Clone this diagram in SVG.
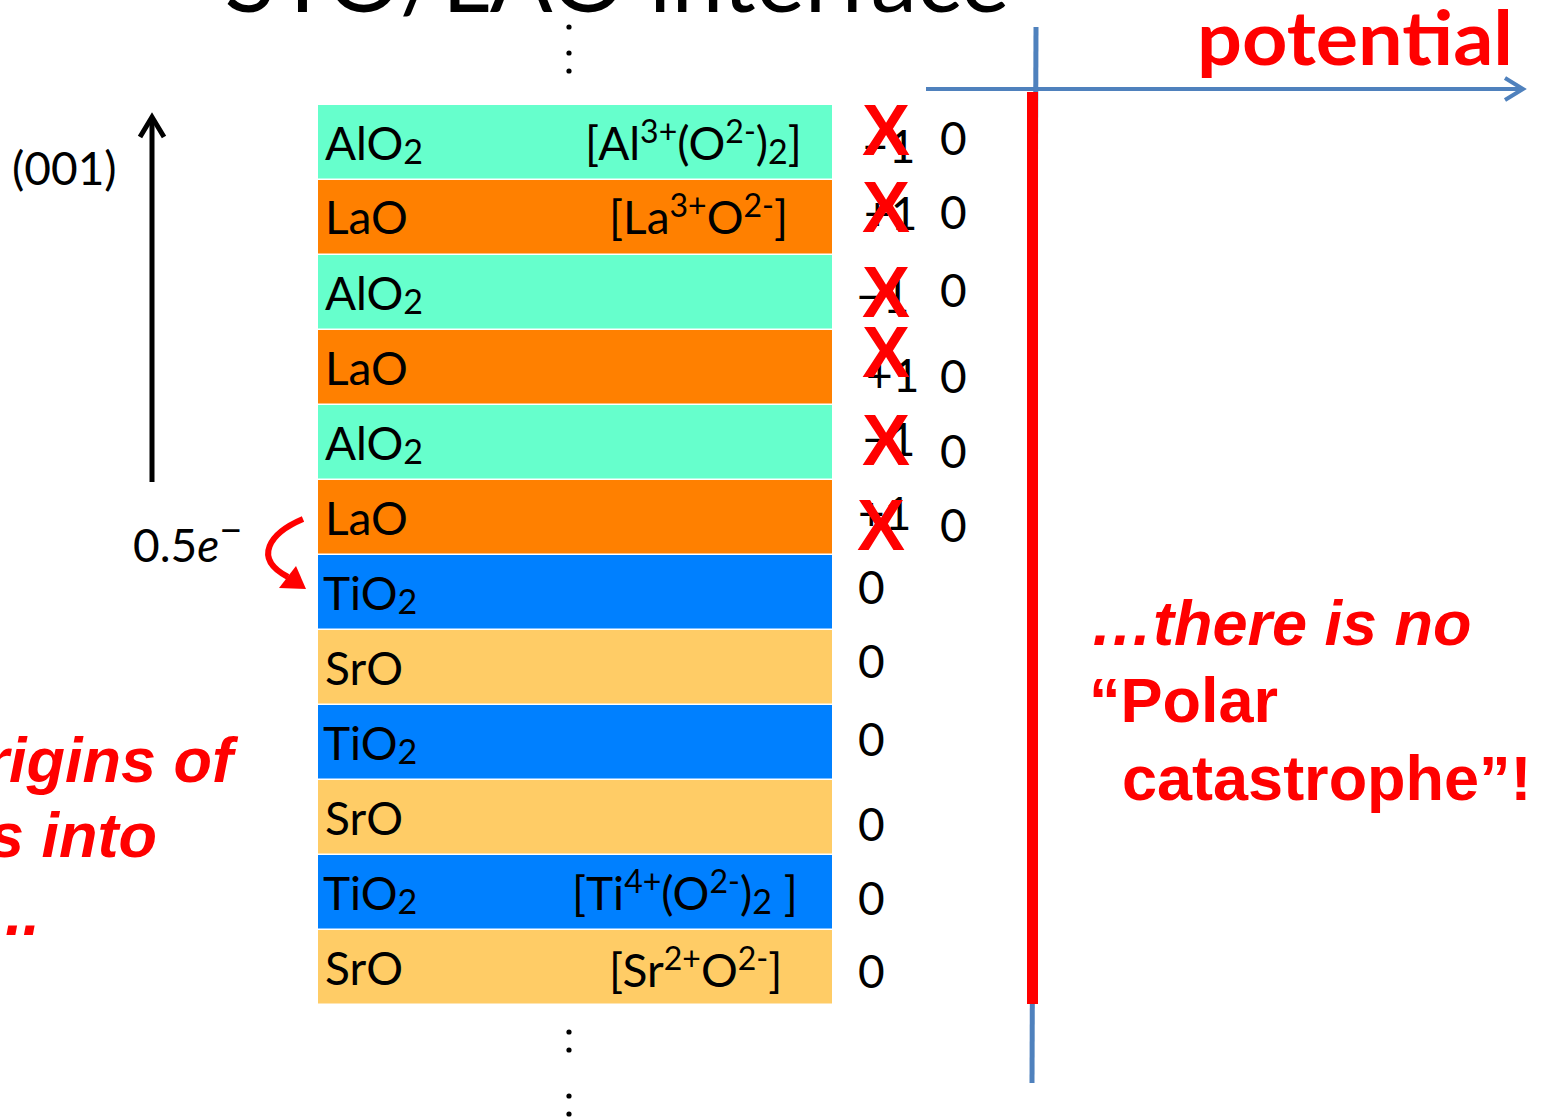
<svg xmlns="http://www.w3.org/2000/svg" width="1549" height="1120" viewBox="0 0 1549 1120">
<style>
.lab{font-family:Lato,"Open Sans","Liberation Sans",sans-serif;font-size:46px;fill:#000}
.sub{font-size:34px}
.sup{font-size:32px}
.num{font-family:Lato,"Open Sans","Liberation Sans",sans-serif;font-size:46px;fill:#000}
.x{font-family:"Liberation Sans",Arial,sans-serif;font-weight:bold;font-size:72px;fill:#ff0000;text-anchor:middle}
.red{font-family:"Liberation Sans",Arial,sans-serif;font-weight:bold;font-size:63px;fill:#ff0000}
.aq{fill:#66FFCC}.or{fill:#FF8000}.bl{fill:#0080FF}.tn{fill:#FFCC66}
</style>
<rect width="1549" height="1120" fill="#fff"/>
<text x="617" y="12" text-anchor="middle" font-family="Lato,'Open Sans',sans-serif" font-size="92" textLength="785" lengthAdjust="spacingAndGlyphs">STO/LAO interface</text>
<g id="dots" fill="#000">
<circle cx="569" cy="27" r="2.6"/><circle cx="569" cy="53" r="2.6"/><circle cx="569" cy="71" r="2.6"/>
<circle cx="569" cy="1032" r="2.6"/><circle cx="569" cy="1050" r="2.6"/><circle cx="569" cy="1096" r="2.6"/><circle cx="569" cy="1114" r="2.6"/>
</g>
<g id="layer1"><rect class="aq" x="318" y="105" width="514" height="73.5"/><text class="lab" x="325" y="160">AlO<tspan class="sub" dy="4">2</tspan></text>
<text class="lab" x="585" y="160">[Al<tspan class="sup" dy="-17">3+</tspan><tspan dy="17">(O</tspan><tspan class="sup" dy="-17">2-</tspan><tspan dy="17">)</tspan><tspan class="sub" dy="4">2</tspan><tspan dy="-4">]</tspan></text></g>
<g id="layer2"><rect class="or" x="318" y="180" width="514" height="73.5"/><text class="lab" x="325" y="234">LaO</text>
<text class="lab" x="609" y="234">[La<tspan class="sup" dy="-17">3+</tspan><tspan dy="17">O</tspan><tspan class="sup" dy="-17">2-</tspan><tspan dy="17">]</tspan></text></g>
<g id="layer3"><rect class="aq" x="318" y="255" width="514" height="73.5"/><text class="lab" x="325" y="310">AlO<tspan class="sub" dy="4">2</tspan></text></g>
<g id="layer4"><rect class="or" x="318" y="330" width="514" height="73.5"/><text class="lab" x="325" y="385">LaO</text></g>
<g id="layer5"><rect class="aq" x="318" y="405" width="514" height="73.5"/><text class="lab" x="325" y="460">AlO<tspan class="sub" dy="4">2</tspan></text></g>
<g id="layer6"><rect class="or" x="318" y="480" width="514" height="73.5"/><text class="lab" x="325" y="535">LaO</text></g>
<g id="layer7"><rect class="bl" x="318" y="555" width="514" height="73.5"/><text class="lab" x="323" y="610">TiO<tspan class="sub" dy="4">2</tspan></text></g>
<g id="layer8"><rect class="tn" x="318" y="630" width="514" height="73.5"/><text class="lab" x="325" y="685">SrO</text></g>
<g id="layer9"><rect class="bl" x="318" y="705" width="514" height="73.5"/><text class="lab" x="323" y="760">TiO<tspan class="sub" dy="4">2</tspan></text></g>
<g id="layer10"><rect class="tn" x="318" y="780" width="514" height="73.5"/><text class="lab" x="325" y="835">SrO</text></g>
<g id="layer11"><rect class="bl" x="318" y="855" width="514" height="73.5"/><text class="lab" x="323" y="910">TiO<tspan class="sub" dy="4">2</tspan></text>
<text class="lab" x="572" y="910">[Ti<tspan class="sup" dy="-17">4+</tspan><tspan dy="17">(O</tspan><tspan class="sup" dy="-17">2-</tspan><tspan dy="17">)</tspan><tspan class="sub" dy="4">2</tspan><tspan dy="-4"> ]</tspan></text></g>
<g id="layer12"><rect class="tn" x="318" y="930" width="514" height="73.5"/><text class="lab" x="325" y="985">SrO</text>
<text class="lab" x="609" y="987">[Sr<tspan class="sup" dy="-17">2+</tspan><tspan dy="17">O</tspan><tspan class="sup" dy="-17">2-</tspan><tspan dy="17">]</tspan></text></g>
<g id="charges">
<text class="num" x="862" y="163">−1</text><text class="num" x="940" y="155">0</text>
<text class="num" x="864" y="230">+1</text><text class="num" x="940" y="229">0</text>
<text class="num" x="856" y="313">−1</text><text class="num" x="940" y="307">0</text>
<text class="num" x="866" y="392">+1</text><text class="num" x="940" y="393">0</text>
<text class="num" x="862" y="456">−1</text><text class="num" x="940" y="468">0</text>
<text class="num" x="858" y="530">+1</text><text class="num" x="940" y="542">0</text>
<text class="num" x="858" y="604">0</text><text class="num" x="858" y="678">0</text><text class="num" x="858" y="756">0</text>
<text class="num" x="858" y="841">0</text><text class="num" x="858" y="915">0</text><text class="num" x="858" y="988">0</text>
</g>
<g id="crosses">
<text class="x" x="886" y="155">X</text><text class="x" x="886" y="232">X</text><text class="x" x="886" y="317">X</text>
<text class="x" x="886" y="377">X</text><text class="x" x="886" y="465">X</text><text class="x" x="881" y="550">X</text>
</g>
<g id="labels">
<text class="num" x="12" y="185" font-size="39">(001)</text>
<text class="num" x="133" y="562" font-size="45">0.5<tspan font-style="italic">e</tspan><tspan font-size="40" dy="-18">−</tspan></text>
<text class="red" x="233" y="782" text-anchor="end" font-style="italic">rigins of</text>
<text class="red" x="157" y="857" text-anchor="end" font-style="italic">s into</text>
<text class="red" x="40" y="935" text-anchor="end" font-style="italic">..</text>
<text class="red" x="1090" y="645" font-style="italic">…there is no</text>
<text class="red" x="1089" y="722">“Polar</text>
<text class="red" x="1122" y="800">catastrophe”!</text>
<text x="1197" y="65" font-family="Lato,'Open Sans',sans-serif" font-weight="bold" font-size="74" fill="#ff0000" textLength="316" lengthAdjust="spacingAndGlyphs">potential</text>
</g>
<g id="connectors" fill="none" stroke-linecap="butt">
<line x1="926" y1="89" x2="1521" y2="89" stroke="#4F81BD" stroke-width="4"/>
<polyline points="1505,78 1523,89 1505,100" stroke="#4F81BD" stroke-width="4"/>
<line x1="1036" y1="27" x2="1032" y2="1083" stroke="#4F81BD" stroke-width="5"/>
<rect x="1027" y="92" width="11" height="912" fill="#ff0000" stroke="none"/>
<line x1="152" y1="482" x2="152" y2="118" stroke="#000" stroke-width="5"/>
<polyline points="140,137 152,117 164,137" stroke="#000" stroke-width="5"/>
<path d="M303 519 C270 533 252 558 288 577" stroke="#ff0000" stroke-width="6"/>
<polygon points="306,589 279,588 296,566" fill="#ff0000" stroke="none"/>
</g>
</svg>
